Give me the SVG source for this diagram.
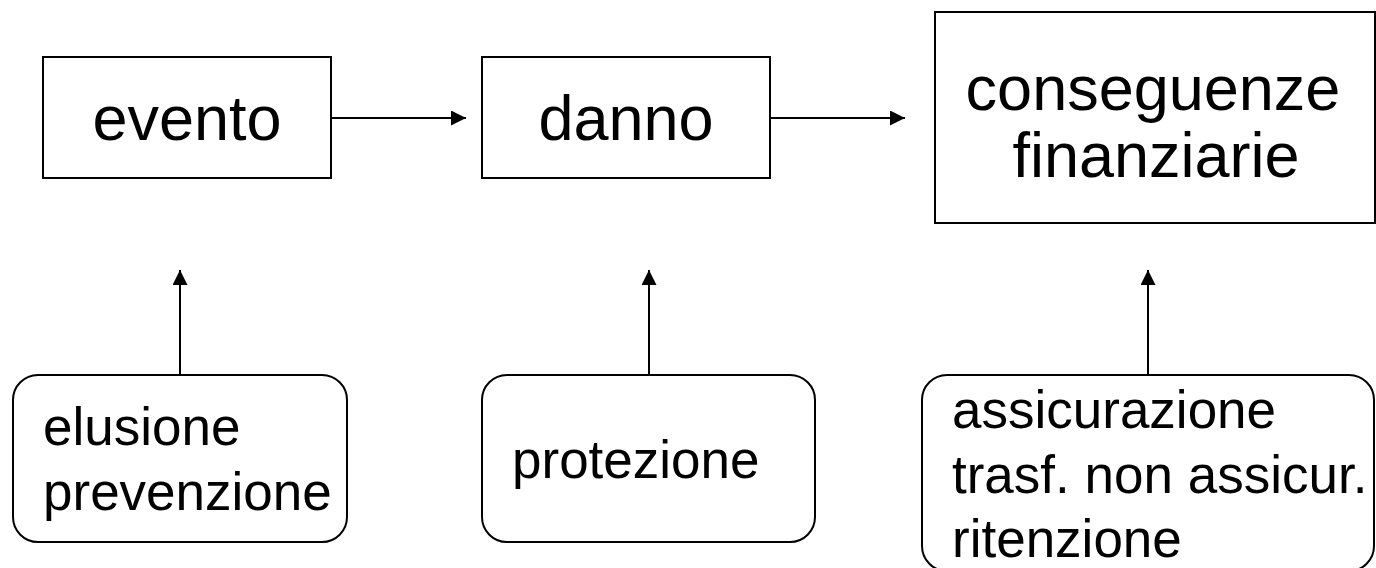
<svg xmlns="http://www.w3.org/2000/svg" width="1376" height="568" viewBox="0 0 1376 568">
<style>
.box{fill:#fff;stroke:#000;stroke-width:2}
.t{font-family:"Liberation Sans",Arial,sans-serif;fill:#000}
.big{font-size:63px}
.small{font-size:53px}
.conn{stroke:#000;stroke-width:2;fill:none}
</style>
<defs>
<marker id="ah" viewBox="0 0 15 15" refX="15" refY="7.5" markerWidth="15" markerHeight="15" markerUnits="userSpaceOnUse" orient="auto">
<path d="M0,0 L15,7.5 L0,15 Z" fill="#000"/>
</marker>
</defs>
<rect width="1376" height="568" fill="#fff"/>
<g id="evento">
<rect class="box" x="43" y="57" width="288" height="121"/>
<text class="t big" x="187" y="140" text-anchor="middle">evento</text>
</g>
<g id="danno">
<rect class="box" x="482" y="57" width="288" height="121"/>
<text class="t big" x="626" y="140" text-anchor="middle">danno</text>
</g>
<g id="conseguenze">
<rect class="box" x="935" y="12" width="440" height="211"/>
<text class="t big" x="1153" y="110" text-anchor="middle">conseguenze</text>
<text class="t big" x="1156" y="177" text-anchor="middle">finanziarie</text>
</g>
<g id="elusione">
<rect class="box" x="13" y="375" width="334" height="167" rx="25" ry="25"/>
<text class="t small" x="43" y="445">elusione</text>
<text class="t small" x="43" y="510">prevenzione</text>
</g>
<g id="protezione">
<rect class="box" x="482" y="375" width="333" height="167" rx="25" ry="25"/>
<text class="t small" x="512" y="478">protezione</text>
</g>
<g id="assicurazione">
<rect class="box" x="922" y="375" width="452" height="196" rx="25" ry="25"/>
<text class="t small" x="952" y="428">assicurazione</text>
<text class="t small" x="952" y="493">trasf. non assicur.</text>
<text class="t small" x="952" y="557">ritenzione</text>
</g>
<g id="connectors">
<line class="conn" x1="332" y1="118" x2="466" y2="118" marker-end="url(#ah)"/>
<line class="conn" x1="771" y1="118" x2="905" y2="118" marker-end="url(#ah)"/>
<line class="conn" x1="180" y1="375" x2="180" y2="270" marker-end="url(#ah)"/>
<line class="conn" x1="649" y1="375" x2="649" y2="270" marker-end="url(#ah)"/>
<line class="conn" x1="1148" y1="375" x2="1148" y2="270" marker-end="url(#ah)"/>
</g>
</svg>
